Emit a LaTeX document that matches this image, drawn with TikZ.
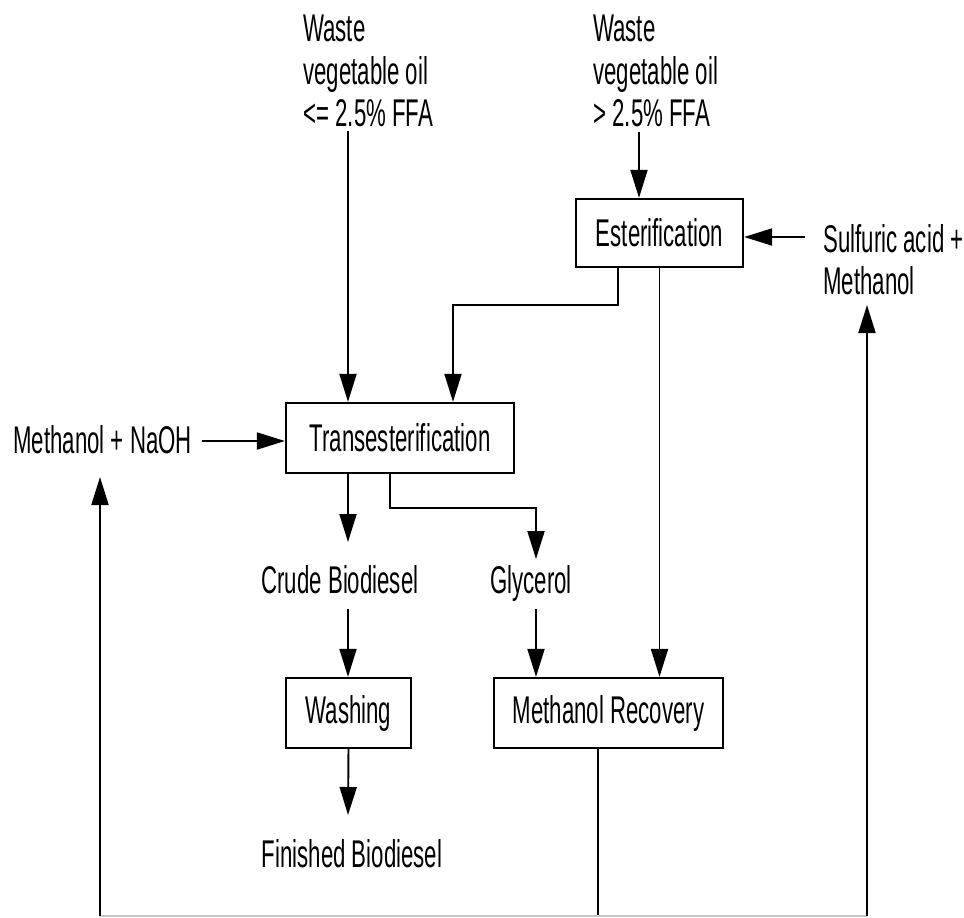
\documentclass[tikz,border=0pt]{standalone}
\usepackage{fontspec}
\setmainfont[FakeStretch=0.575]{Liberation Sans}
\usetikzlibrary{arrows.meta}

\begin{document}
\begin{tikzpicture}[x=0.02cm,y=-0.02cm,font=\fontsize{22}{24}\selectfont]
        \tikzset{block/.style = {shape=rectangle,draw,line width=1.3pt,inner sep=0pt,minimum height=1.4cm}}
        \tikzset{txt/.style = {inner sep=0pt,align=left}}
        \tikzset{edge/.style = {-{Triangle[length=0.56cm,width=0.34cm]},line width=1.1pt}}
        \useasboundingbox (0,0) rectangle (964,917);
        % inputs
        \node[txt,anchor=north west] (oil1) at (303,15) {Waste\\vegetable oil\\<= 2.5\% FFA};
        \node[txt,anchor=north west] (oil2) at (593,15) {Waste\\vegetable oil\\> 2.5\% FFA};
        \node[txt,anchor=north west] (acid) at (823,224) {Sulfuric acid +\\Methanol};
        \node[txt,anchor=west] (naoh) at (13,440) {Methanol + NaOH};
        % process blocks
        \node[block,minimum width=3.34cm,minimum height=1.36cm] (ester) at (659.5,233) {Esterification};
        \node[block,minimum width=4.56cm] (trans) at (400,438) {Transesterification};
        \node[block,minimum width=2.5cm] (wash) at (348.5,713) {Washing};
        \node[block,minimum width=4.58cm] (recov) at (608.5,713) {Methanol Recovery};
        % products
        \node[txt,anchor=base] (crude) at (340,593) {Crude Biodiesel};
        \node[txt,anchor=base] (glyc) at (531,593) {Glycerol};
        \node[txt,anchor=base] (fin) at (352,867) {Finished Biodiesel};
        % bends and free ends
        \coordinate (w1) at (348,131);
        \coordinate (w2) at (639,132);
        \coordinate (e1) at (618,305);
        \coordinate (e2) at (453,305);
        \coordinate (s1) at (805,237);
        \coordinate (n1) at (202,441);
        \coordinate (c1) at (348,542);
        \coordinate (c2) at (348,609);
        \coordinate (g1) at (390,508);
        \coordinate (g2) at (536,508);
        \coordinate (g3) at (536,559);
        \coordinate (g4) at (536,609);
        \coordinate (f1) at (348,815);
        \coordinate (r1) at (598,916);
        \coordinate (r2) at (100,916);
        \coordinate (r3) at (867,916);
        \coordinate (r4) at (100,477);
        \coordinate (r5) at (867,305);
        % edges
        \draw[edge] (w1) -- (w1 |- trans.north);
        \draw[edge] (w2) -- (w2 |- ester.north);
        \draw[edge] (s1) -- (s1 -| ester.east);
        \draw[edge] (ester.south -| e1) -- (e1) -- (e2) -- (e2 |- trans.north);
        \draw[edge] (ester.south) -- (ester.south |- recov.north);
        \draw[edge] (n1) -- (n1 -| trans.west);
        \draw[edge] (trans.south -| c1) -- (c1);
        \draw[edge] (trans.south -| g1) -- (g1) -- (g2) -- (g3);
        \draw[edge] (c2) -- (c2 |- wash.north);
        \draw[edge] (g4) -- (g4 |- recov.north);
        \draw[edge] (wash.south) -- (f1);
        % methanol return
        \draw[line width=1.1pt] (recov.south -| r1) -- (r1);
        \draw[gray!45,line width=1pt] (r2) -- (r3);
        \draw[edge] (r2) -- (r4);
        \draw[edge] (r3) -- (r5);
\end{tikzpicture}
\end{document}
